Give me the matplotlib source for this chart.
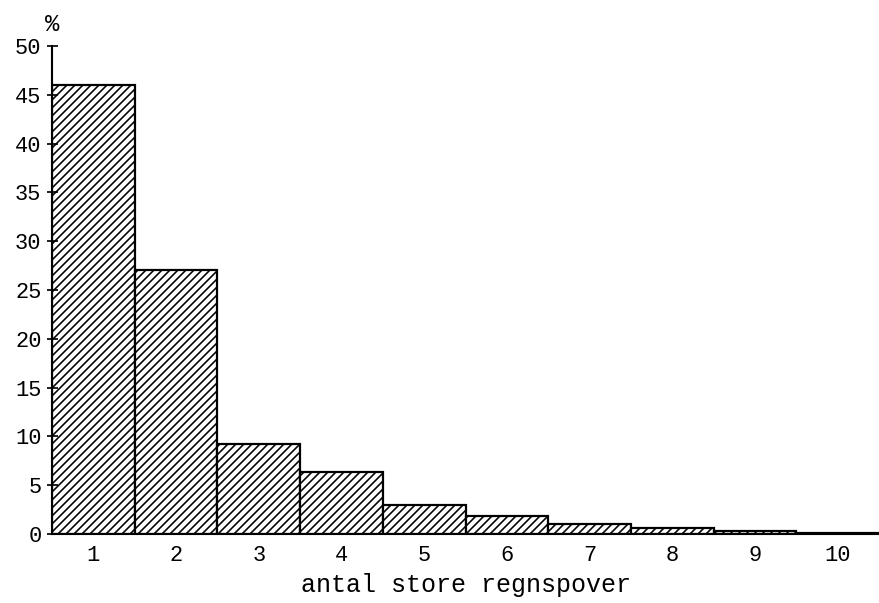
import numpy as np
import matplotlib.pyplot as plt

# -----------------------------
# Data
# -----------------------------

categories = [1, 2, 3, 4, 5, 6, 7, 8, 9, 10]
percent = [46.0, 27.1, 9.2, 6.4, 3.0, 1.8, 1.0, 0.6, 0.3, 0.15]
y_ticks = [0, 5, 10, 15, 20, 25, 30, 35, 40, 45, 50]

# dpi 72 so one point = one pixel (hatch cell is then 72 px)
plt.rcParams["font.family"] = ["Liberation Mono", "DejaVu Sans Mono"]
plt.rcParams["hatch.linewidth"] = 1.6

# -----------------------------
# Plot
# -----------------------------

fig = plt.figure(figsize=(879 / 72, 603 / 72), dpi=72)
ax = fig.add_axes([0.0592, 0.1144, 0.9408, 0.8093])

ax.bar(
    categories,
    percent,
    width=1.0,
    color="white",
    edgecolor="black",
    linewidth=2.2,
    hatch="///"
)

ax.set_xlim(0.5, 10.5)
ax.set_ylim(0, 50)

ax.set_yticks(y_ticks)
ax.set_xticks(categories)
ax.tick_params(axis="y", direction="inout", length=11, width=1.7, labelsize=22, pad=5)
ax.tick_params(axis="x", length=0, labelsize=22, pad=11)

ax.spines["top"].set_visible(False)
ax.spines["right"].set_visible(False)
ax.spines["left"].set_linewidth(2.1)
ax.spines["bottom"].set_linewidth(2.1)

ax.set_xlabel("antal store regnspover", fontsize=25, labelpad=7)
ax.text(0.0, 1.02, "%", transform=ax.transAxes, fontsize=24, ha="center", va="bottom")

fig.savefig("out.png", dpi=72)
